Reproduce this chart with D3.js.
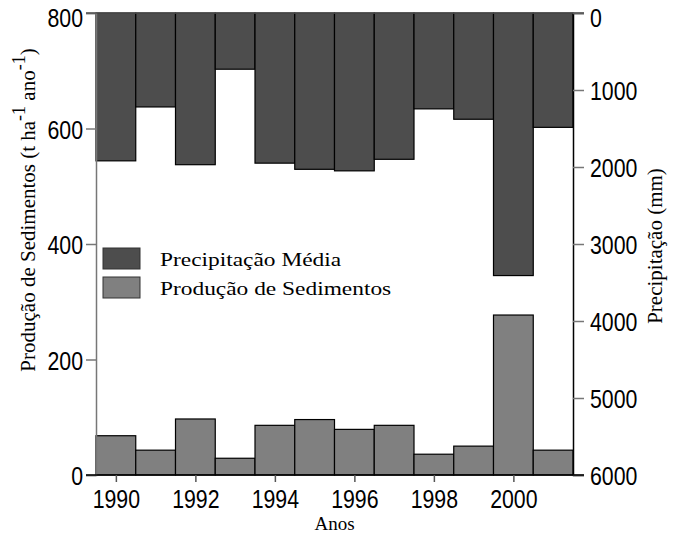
<!DOCTYPE html>
<html>
<head>
<meta charset="utf-8">
<script src="https://cdnjs.cloudflare.com/ajax/libs/d3/7.8.5/d3.min.js"></script>
<style>
	body { margin: 0; background: #fff; }
	.tick text { font-family: "Liberation Sans", Arial, sans-serif; font-size: 26px; fill: #000; }
	.serif { font-family: "Liberation Serif", "Times New Roman", serif; fill: #000; }
</style>
</head>
<body>
<div id="chart"></div>
<script>

	var years = [1990, 1991, 1992, 1993, 1994, 1995, 1996, 1997, 1998, 1999, 2000, 2001];

	// precipitação média (mm), eixo da direita invertido
	var precipitacao = [1920, 1220, 1970, 730, 1950, 2030, 2050, 1900, 1245, 1380, 3410, 1485];

	// produção de sedimentos (t ha-1 ano-1), eixo da esquerda
	var sedimentos = [68, 43, 97, 29, 86, 96, 79, 86, 36, 50, 277, 43];

	var xTicks = [1990, 1992, 1994, 1996, 1998, 2000];
	var leftTicks = [0, 200, 400, 600, 800];
	var rightTicks = [0, 1000, 2000, 3000, 4000, 5000, 6000];

	var legendLabels = ["Precipitação Média", "Produção de Sedimentos"];
	var legendColors = ["#4d4d4d", "#808080"];

	var width = 676, height = 533;
	var plotL = 96, plotR = 573, plotT = 13, plotB = 475;

	var svg = d3.select('#chart').append('svg')
		.attr('width', width)
		.attr('height', height);

	var x = d3.scaleLinear().domain([1989.5, 2001.5]).range([plotL, plotR]);
	var yLeft = d3.scaleLinear().domain([0, 800]).range([plotB, plotT]);
	var yRight = d3.scaleLinear().domain([0, 6000]).range([plotT, plotB]);

	// barras de precipitação, penduradas do topo
	svg.selectAll("rect.prec")
		.data(precipitacao)
		.enter()
		.append("rect")
		.attr("class", "prec")
		.attr("x", function(d, i){ return x(years[i] - 0.5); })
		.attr("width", function(d, i){ return x(years[i] + 0.5) - x(years[i] - 0.5); })
		.attr("y", yRight(0))
		.attr("height", function(d){ return yRight(d) - yRight(0); })
		.attr("fill", legendColors[0])
		.attr("stroke", "#000")
		.attr("stroke-width", 1.2);

	// barras de sedimentos, a partir da base
	svg.selectAll("rect.sed")
		.data(sedimentos)
		.enter()
		.append("rect")
		.attr("class", "sed")
		.attr("x", function(d, i){ return x(years[i] - 0.5); })
		.attr("width", function(d, i){ return x(years[i] + 0.5) - x(years[i] - 0.5); })
		.attr("y", function(d){ return yLeft(d); })
		.attr("height", function(d){ return yLeft(0) - yLeft(d); })
		.attr("fill", legendColors[1])
		.attr("stroke", "#000")
		.attr("stroke-width", 1.2);

	// deixa os números estreitos como no original
	function narrow(g, topValue){
		g.selectAll(".tick text").each(function(d){
			var t = d3.select(this);
			var tx = +t.attr("x") || 0;
			var ty = (d === topValue) ? 5 : 1;
			t.attr("x", 0).attr("transform", "translate(" + tx + "," + ty + ") scale(0.82,1)");
		});
	}

	// eixos
	var axisLeft = svg.append("g")
		.attr("transform", "translate(" + plotL + ",0)")
		.call(d3.axisLeft(yLeft).tickValues(leftTicks).tickSize(10).tickPadding(3));
	axisLeft.select(".domain").attr("stroke", "#777").attr("stroke-width", 1.5);
	axisLeft.selectAll(".tick line").attr("stroke", "#777").attr("stroke-width", 1.5);
	axisLeft.selectAll(".tick text").attr("dy", "0.34em");
	narrow(axisLeft, 800);

	var axisRight = svg.append("g")
		.attr("transform", "translate(" + plotR + ",0)")
		.call(d3.axisRight(yRight).tickValues(rightTicks).tickFormat(d3.format("d")).tickSize(11).tickPadding(6));
	axisRight.select(".domain").attr("stroke", "#000").attr("stroke-width", 1.5);
	axisRight.selectAll(".tick line").attr("stroke", "#777").attr("stroke-width", 1.5);
	axisRight.selectAll(".tick text").attr("dy", "0.34em");
	narrow(axisRight, 0);

	var axisBottom = svg.append("g")
		.attr("transform", "translate(0," + plotB + ")")
		.call(d3.axisBottom(x).tickValues(xTicks).tickFormat(d3.format("d")).tickSize(7).tickPadding(7).tickSizeOuter(0));
	axisBottom.select(".domain").attr("stroke", "#000").attr("stroke-width", 1.5)
		.attr("d", "M" + (plotL - 10) + ",0H" + (plotR + 11));
	axisBottom.selectAll(".tick line").attr("stroke", "#555").attr("stroke-width", 1.5);
	narrow(axisBottom, null);

	svg.append("line")
		.attr("x1", plotL - 10).attr("x2", plotR + 11)
		.attr("y1", plotT).attr("y2", plotT)
		.attr("stroke", "#555").attr("stroke-width", 1.5);

	// títulos
	svg.append("text")
		.attr("class", "serif")
		.attr("text-anchor", "middle")
		.attr("x", (plotL + plotR) / 2)
		.attr("y", 530)
		.style("font-size", "19px")
		.text("Anos");

	var tl = svg.append("text")
		.attr("class", "serif")
		.attr("text-anchor", "middle")
		.attr("transform", "translate(35," + 210 + ") rotate(-90)")
		.style("font-size", "21px");
	tl.append("tspan").text("Produção de Sedimentos (t ha");
	tl.append("tspan").attr("baseline-shift", "super").style("font-size", "18px").text("-1");
	tl.append("tspan").text(" ano");
	tl.append("tspan").attr("baseline-shift", "super").style("font-size", "18px").text("-1");
	tl.append("tspan").text(")");

	svg.append("text")
		.attr("class", "serif")
		.attr("text-anchor", "middle")
		.attr("transform", "translate(662," + 246 + ") rotate(-90)")
		.style("font-size", "21px")
		.text("Precipitação (mm)");

	// legenda
	var legend = svg.selectAll("g.legend")
		.data(legendLabels)
		.enter()
		.append("g")
		.attr("class", "legend")
		.attr("transform", function(d, i){ return "translate(103," + (248 + i * 29) + ")"; });

	legend.append("rect")
		.attr("width", 37)
		.attr("height", 21)
		.attr("fill", function(d, i){ return legendColors[i]; })
		.attr("stroke", "#333")
		.attr("stroke-width", 1);

	legend.append("text")
		.attr("class", "serif")
		.attr("transform", "translate(57,18) scale(1.3,1)")
		.style("font-size", "18px")
		.text(function(d){ return d; });

</script>
</body>
</html>
